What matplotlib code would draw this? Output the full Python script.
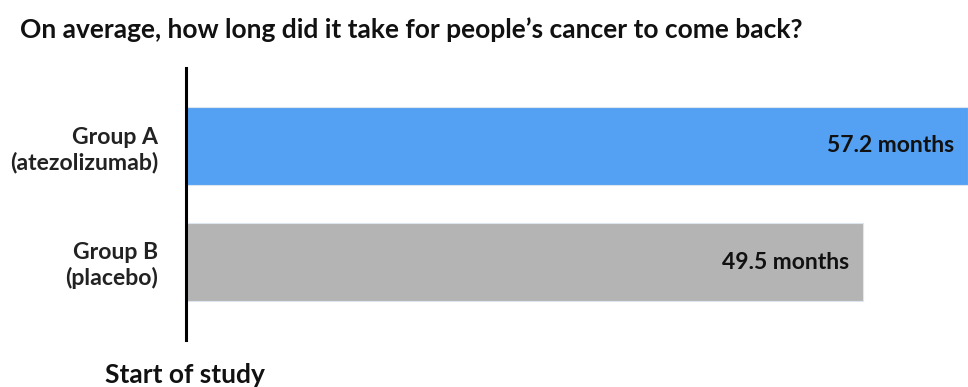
import matplotlib.pyplot as plt

groups = ['Group A\n(atezolizumab)', 'Group B\n(placebo)']
months = [57.2, 49.5]
value_labels = ['57.2 months', '49.5 months']
colors = ['#54A1F3', '#B4B4B4']

plt.rcParams['font.family'] = ['Lato', 'DejaVu Sans']
plt.rcParams['font.weight'] = 'bold'

W, H = 968, 387
fig = plt.figure(figsize=(W / 100, H / 100), dpi=100)
ax = fig.add_axes([186 / W, (H - 340) / H, 782 / W, 272 / H])

ypos = list(range(len(groups)))
ax.barh(ypos, months, height=0.68, color=colors, edgecolor='#DDE6F0', linewidth=0.8)
ax.set_xlim(0, 57.2)
ax.set_ylim(1.672, -0.672)

for y, m, lab in zip(ypos, months, value_labels):
    ax.text(m - 1.0, y, lab, ha='right', va='center', fontsize=16.5, fontweight='bold', color='#111111')

ax.set_yticks(ypos)
ax.set_yticklabels(groups, fontsize=16.6, fontweight='bold', linespacing=1.2, color='#222222')
ax.tick_params(axis='y', length=0, pad=20)
ax.set_xticks([])
for s in ['top', 'right', 'bottom']:
    ax.spines[s].set_visible(False)
ax.spines['left'].set_linewidth(2.2)
ax.spines['left'].set_color('black')

fig.text(20 / W, 1 - 30 / H, 'On average, how long did it take for people\u2019s cancer to come back?',
         ha='left', va='center', fontsize=19, fontweight='bold', color='#111111')
fig.text(105 / W, 1 - 375 / H, 'Start of study', ha='left', va='center',
         fontsize=19, fontweight='bold', color='#111111')

fig.savefig('out.png', dpi=100)
